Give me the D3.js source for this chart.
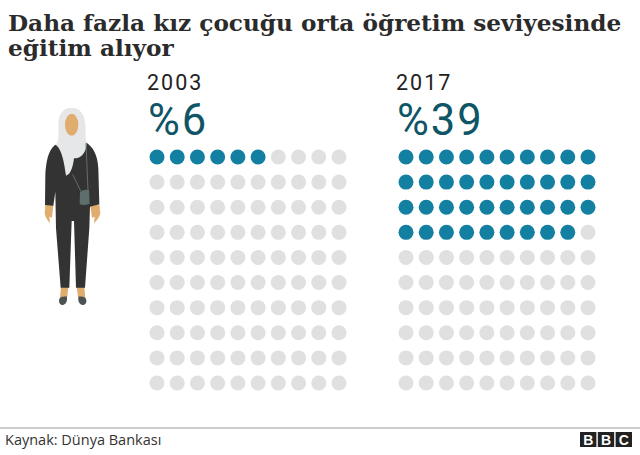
<!DOCTYPE html>
<html>
<head>
<meta charset="utf-8">
<script src="https://cdnjs.cloudflare.com/ajax/libs/d3/7.8.5/d3.min.js"></script>
<style>
  html, body { margin: 0; padding: 0; background: #fff; }
  svg { display: block; }
</style>
</head>
<body>
<svg id="chart" width="640" height="455"></svg>
<script>
const titleLines = ['Daha fazla kız çocuğu orta öğretim seviyesinde', 'eğitim alıyor']
const years = ['2003', '2017']
const shares = [6, 39]
const shareLabels = ['%6', '%39']
const columns = d3.range(10)
const rows = d3.range(10)
const source = 'Kaynak: Dünya Bankası'
const logoLetters = ['B', 'B', 'C']

const svg = d3.select('#chart')

const panelX = d3.scaleBand().domain(years).range([149, 647]).padding(0)
const colX = d3.scalePoint().domain(columns).range([8, 190])
const rowY = d3.scalePoint().domain(rows).range([157, 383])

// TITLE
svg.append('text')
  .attr('font-family', 'DejaVu Serif')
  .attr('font-weight', 'bold')
  .attr('font-size', 23.2)
  .attr('fill', '#2b2b2b')
  .selectAll('tspan')
  .data(titleLines)
  .join('tspan')
  .attr('x', 8)
  .attr('y', (d, i) => 31 + i * 25)
  .text(d => d)

// FIGURE, drawn in the 3x space of the zoomed crop
const figure = svg.append('g').attr('transform', 'translate(30,95) scale(0.3333)')
const skin = '#e0ad6e'
figure.append('path').attr('fill', skin)
  .attr('d', 'M46 330 L44 355 C46 368 54 378 60 385 L58 365 L66 368 L70 330 Z')
figure.append('path').attr('fill', skin)
  .attr('d', 'M208 328 L211 355 C208 368 200 378 192 385 L194 365 L186 368 L181 333 Z')
figure.append('path').attr('fill', skin)
  .attr('d', 'M93 575 L115 575 L112 605 L90 612 Z M140 575 L163 575 L166 612 L144 605 Z')
figure.append('path').attr('fill', '#4a5352')
  .attr('d', 'M88 612 C92 604 100 606 110 604 C114 616 108 630 98 630 C90 630 85 622 88 612 Z M146 604 C156 606 164 604 168 612 C172 622 166 630 158 630 C148 630 142 616 146 604 Z')
figure.append('path').attr('fill', '#333')
  .attr('d', 'M75 150 C55 165 48 200 46 240 L45 330 L70 332 L76 290 L78 400 L92 578 L118 578 L125 378 L132 378 L138 578 L165 578 L178 400 L180 335 L208 328 L205 220 C203 180 190 155 165 140 Z')
figure.append('path').attr('fill', '#e6e7e8')
  .attr('d', 'M125 38 C100 38 85 55 85 90 C85 120 88 130 78 150 C90 160 100 180 108 242 C118 240 128 225 132 190 C150 190 165 180 170 150 C165 120 168 100 165 80 C160 50 145 38 125 38 Z')
figure.append('ellipse').attr('cx', 125).attr('cy', 89).attr('rx', 20).attr('ry', 33).attr('fill', skin)
figure.append('path').attr('fill', 'none').attr('stroke', '#5f6e6c').attr('stroke-width', 3)
  .attr('d', 'M168 145 L174 285 M128 238 L152 288')
figure.append('path').attr('fill', '#5f6e6c')
  .attr('d', 'M150 290 Q163 282 177 285 L179 326 Q165 333 149 328 Z')

// PANELS
const panels = svg.append('g')
  .selectAll('g')
  .data(years.map((year, i) => ({ year, share: shares[i], label: shareLabels[i] })))
  .join('g')
  .attr('transform', d => `translate(${panelX(d.year)},0)`)

panels.append('text')
  .attr('x', -2)
  .attr('y', 89.5)
  .attr('font-family', 'Roboto')
  .attr('font-size', 21.5)
  .attr('letter-spacing', 2)
  .attr('fill', '#222')
  .text(d => d.year)

panels.append('text')
  .attr('x', -1)
  .attr('y', 135)
  .attr('font-family', 'Roboto')
  .attr('font-size', 43.5)
  .attr('letter-spacing', 2)
  .attr('fill', '#0f5566')
  .text(d => d.label)

panels.selectAll('circle')
  .data(d => d3.cross(rows, columns, (r, c) => ({ r, c, on: r * columns.length + c < d.share })))
  .join('circle')
  .attr('cx', d => colX(d.c))
  .attr('cy', d => rowY(d.r))
  .attr('r', 7.5)
  .attr('fill', d => (d.on ? '#1380a1' : '#e0e0e0'))

// FOOTER
svg.append('line')
  .attr('x1', 0).attr('x2', 640)
  .attr('y1', 428).attr('y2', 428)
  .attr('stroke', '#9a9a9a')
  .attr('stroke-width', 1)

svg.append('text')
  .attr('x', 5)
  .attr('y', 445)
  .attr('font-family', 'Open Sans')
  .attr('font-size', 14.5)
  .attr('fill', '#333')
  .text(source)

const logoX = d3.scaleBand().domain(d3.range(logoLetters.length)).range([580, 632]).paddingInner(0.08)
const logo = svg.append('g')
  .selectAll('g')
  .data(logoLetters)
  .join('g')
  .attr('transform', (d, i) => `translate(${logoX(i)},432)`)
logo.append('rect')
  .attr('width', logoX.bandwidth())
  .attr('height', 15)
  .attr('fill', '#222')
logo.append('text')
  .attr('x', logoX.bandwidth() / 2)
  .attr('y', 12.5)
  .attr('text-anchor', 'middle')
  .attr('font-family', 'Liberation Sans')
  .attr('font-weight', 'bold')
  .attr('font-size', 14)
  .attr('fill', '#fff')
  .text(d => d)
</script>
</body>
</html>
